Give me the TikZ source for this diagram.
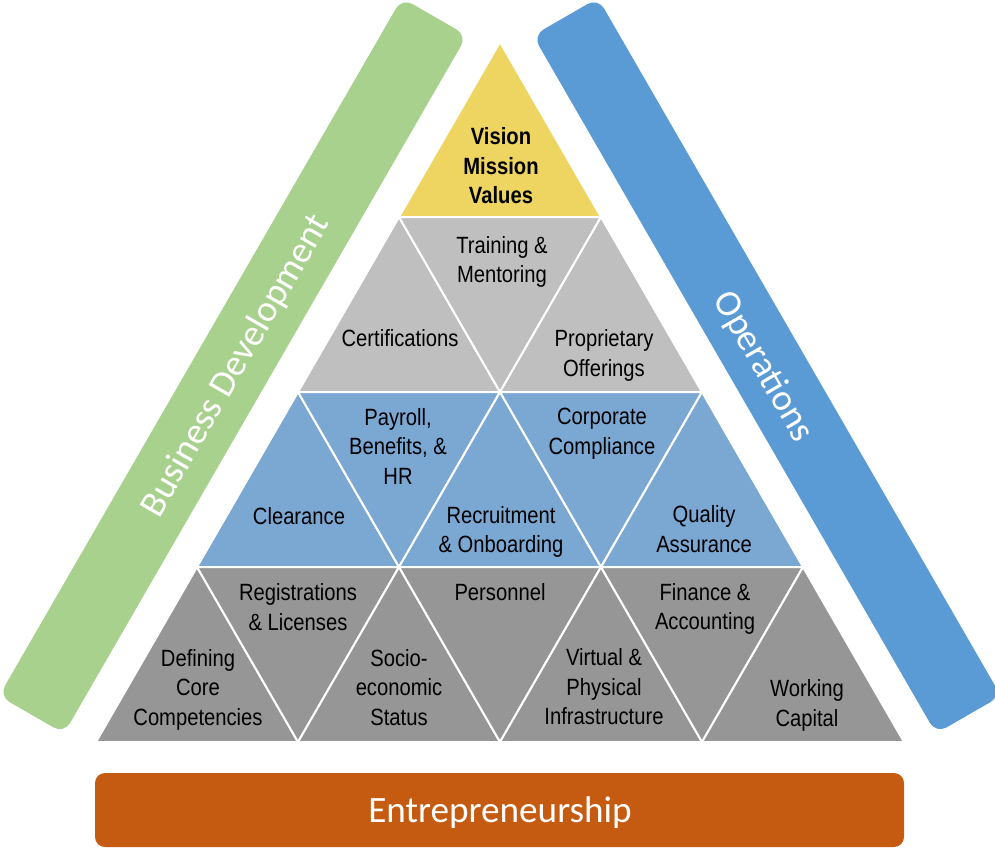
\documentclass[tikz,border=0pt]{standalone}
\usepackage{fontspec}
\setmainfont{Liberation Sans}[FakeStretch=0.86]
\newfontfamily\calibri{Carlito}
\definecolor{vmvyellow}{RGB}{238,213,98}
\definecolor{rowgray}{RGB}{191,191,191}
\definecolor{rowblue}{RGB}{123,167,211}
\definecolor{rowdark}{RGB}{150,150,150}
\definecolor{bizgreen}{RGB}{169,209,142}
\definecolor{opsblue}{RGB}{91,155,213}
\definecolor{entorange}{RGB}{197,90,17}

\begin{document}
\begin{tikzpicture}[x=1pt,y=-1pt,
        tri/.style={draw=white,line width=2pt,line join=round},
        lbl/.style={align=center,inner sep=0pt,font=\fontsize{23.5}{29.5}\selectfont},
        bartext/.style={text=white,inner sep=0pt,font=\calibri\fontsize{37.2}{40}\selectfont}]
        \useasboundingbox (0,0) rectangle (995,856);
        % side bars and base bar
        \fill[bizgreen,rounded corners=12pt] (402,-2) -- (467,35.5) -- (64,733.5) -- (-1,696) -- cycle;
        \fill[opsblue,rounded corners=12pt] (598,-2) -- (533,35.5) -- (936,733.5) -- (1001,696) -- cycle;
        \fill[entorange,rounded corners=10pt] (95,773) rectangle (904,847);
        % row 1
        \filldraw[tri,fill=vmvyellow] (500,42) -- (399,217) -- (601,217) -- cycle;
        % row 2
        \filldraw[tri,fill=rowgray] (399,217) -- (298,392) -- (500,392) -- cycle;
        \filldraw[tri,fill=rowgray] (399,217) -- (601,217) -- (500,392) -- cycle;
        \filldraw[tri,fill=rowgray] (601,217) -- (500,392) -- (702,392) -- cycle;
        % row 3
        \filldraw[tri,fill=rowblue] (298,392) -- (197,567) -- (399,567) -- cycle;
        \filldraw[tri,fill=rowblue] (298,392) -- (500,392) -- (399,567) -- cycle;
        \filldraw[tri,fill=rowblue] (500,392) -- (399,567) -- (601,567) -- cycle;
        \filldraw[tri,fill=rowblue] (500,392) -- (702,392) -- (601,567) -- cycle;
        \filldraw[tri,fill=rowblue] (702,392) -- (601,567) -- (803,567) -- cycle;
        % row 4
        \filldraw[tri,fill=rowdark] (197,567) -- (96,742) -- (298,742) -- cycle;
        \filldraw[tri,fill=rowdark] (197,567) -- (399,567) -- (298,742) -- cycle;
        \filldraw[tri,fill=rowdark] (399,567) -- (298,742) -- (500,742) -- cycle;
        \filldraw[tri,fill=rowdark] (399,567) -- (601,567) -- (500,742) -- cycle;
        \filldraw[tri,fill=rowdark] (601,567) -- (500,742) -- (702,742) -- cycle;
        \filldraw[tri,fill=rowdark] (601,567) -- (803,567) -- (702,742) -- cycle;
        \filldraw[tri,fill=rowdark] (803,567) -- (702,742) -- (904,742) -- cycle;
        % labels
        \node[lbl] (vmv) at (501,166) {\textbf{Vision}\\\textbf{Mission}\\\textbf{Values}};
        \node[lbl] (train) at (502,262) {Training \&\\Mentoring};
        \node[lbl] (cert) at (400,338.5) {Certifications};
        \node[lbl] (prop) at (604,355.5) {Proprietary\\Offerings};
        \node[lbl] (clear) at (299,516.5) {Clearance};
        \node[lbl] (payroll) at (398,446) {Payroll,\\Benefits, \&\\HR};
        \node[lbl] (recruit) at (501,532) {Recruitment\\\& Onboarding};
        \node[lbl] (corp) at (602,433.5) {Corporate\\Compliance};
        \node[lbl] (quality) at (704,529) {Quality\\Assurance};
        \node[lbl] (defcore) at (198,689.5) {Defining\\Core\\Competencies};
        \node[lbl] (regis) at (298,607) {Registrations\\\& Licenses};
        \node[lbl] (socio) at (399,687.5) {Socio-\\economic\\Status};
        \node[lbl] (personnel) at (500,592.5) {Personnel};
        \node[lbl] (virtual) at (604,687) {Virtual \&\\Physical\\Infrastructure};
        \node[lbl] (finance) at (705,609) {Finance \&\\Accounting};
        \node[lbl] (working) at (807,705.5) {Working\\Capital};
        \node[bartext,rotate=60] (bizdev) at (236,366) {Business Development};
        \node[bartext,rotate=-60] (ops) at (763,367) {Operations};
        \node[bartext] (entre) at (500,813) {Entrepreneurship};
    \end{tikzpicture}
\end{document}
